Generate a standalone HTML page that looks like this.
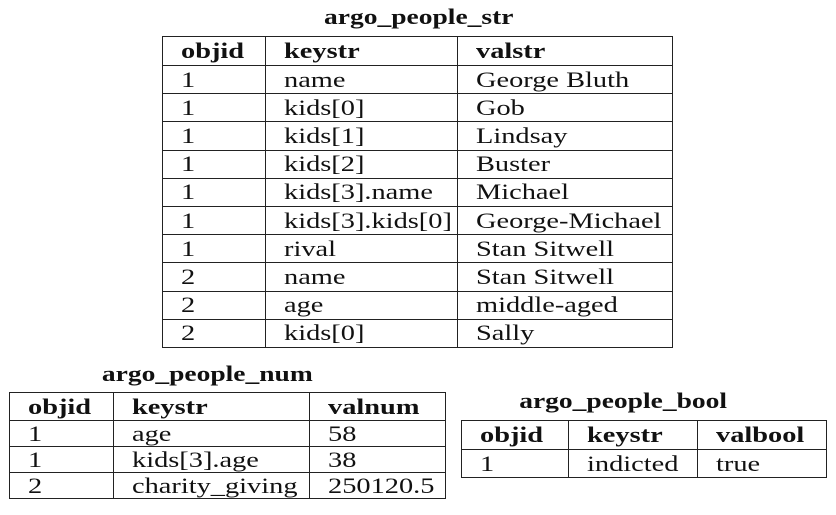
<!DOCTYPE html>
<html><head><style>
body{margin:0;width:836px;height:515px;background:#fff;position:relative;font-family:"Liberation Serif",serif;color:#111;overflow:hidden}
.t{position:absolute;font-weight:bold;font-size:22px;text-align:center;white-space:nowrap;line-height:26px}
.t span{display:inline-block;transform:scaleX(1.25)}
table{position:absolute;border-collapse:collapse;font-size:22px;table-layout:fixed}
td{border:1.6px solid #222;padding:0 0 0 18px;line-height:1;white-space:nowrap;vertical-align:middle;overflow:visible}
td span{display:inline-block;transform:scaleX(1.29);transform-origin:left center}
tr.h td{font-weight:bold}
</style></head><body>
<div class="t" style="left:161px;width:516px;top:4px"><span>argo_people_str</span></div>
<table style="left:162px;top:36px;width:511px">
<colgroup><col style="width:103px"><col style="width:192px"><col></colgroup>
<tr class="h" style="height:29px"><td><span>objid</span></td><td><span>keystr</span></td><td><span>valstr</span></td></tr>
<tr style="height:28.2px"><td><span>1</span></td><td><span>name</span></td><td><span>George Bluth</span></td></tr>
<tr style="height:28.2px"><td><span>1</span></td><td><span>kids[0]</span></td><td><span>Gob</span></td></tr>
<tr style="height:28.2px"><td><span>1</span></td><td><span>kids[1]</span></td><td><span>Lindsay</span></td></tr>
<tr style="height:28.2px"><td><span>1</span></td><td><span>kids[2]</span></td><td><span>Buster</span></td></tr>
<tr style="height:28.2px"><td><span>1</span></td><td><span>kids[3].name</span></td><td><span>Michael</span></td></tr>
<tr style="height:28.2px"><td><span>1</span></td><td><span>kids[3].kids[0]</span></td><td><span>George-Michael</span></td></tr>
<tr style="height:28.2px"><td><span>1</span></td><td><span>rival</span></td><td><span>Stan Sitwell</span></td></tr>
<tr style="height:28.2px"><td><span>2</span></td><td><span>name</span></td><td><span>Stan Sitwell</span></td></tr>
<tr style="height:28.2px"><td><span>2</span></td><td><span>age</span></td><td><span>middle-aged</span></td></tr>
<tr style="height:28.2px"><td><span>2</span></td><td><span>kids[0]</span></td><td><span>Sally</span></td></tr>
</table>
<div class="t" style="left:7px;width:400px;top:361px"><span>argo_people_num</span></div>
<table style="left:9px;top:392px;width:437px">
<colgroup><col style="width:104px"><col style="width:196px"><col></colgroup>
<tr class="h" style="height:28px"><td><span>objid</span></td><td><span>keystr</span></td><td><span>valnum</span></td></tr>
<tr style="height:26px"><td><span>1</span></td><td><span>age</span></td><td><span>58</span></td></tr>
<tr style="height:26px"><td><span>1</span></td><td><span>kids[3].age</span></td><td><span>38</span></td></tr>
<tr style="height:26px"><td><span>2</span></td><td><span>charity_giving</span></td><td><span>250120.5</span></td></tr>
</table>
<div class="t" style="left:473px;width:300px;top:388px"><span>argo_people_bool</span></div>
<table style="left:461px;top:420px;width:366px">
<colgroup><col style="width:107px"><col style="width:129px"><col></colgroup>
<tr class="h" style="height:29px"><td><span>objid</span></td><td><span>keystr</span></td><td><span>valbool</span></td></tr>
<tr style="height:28px"><td><span>1</span></td><td><span>indicted</span></td><td><span>true</span></td></tr>
</table>
</body></html>
